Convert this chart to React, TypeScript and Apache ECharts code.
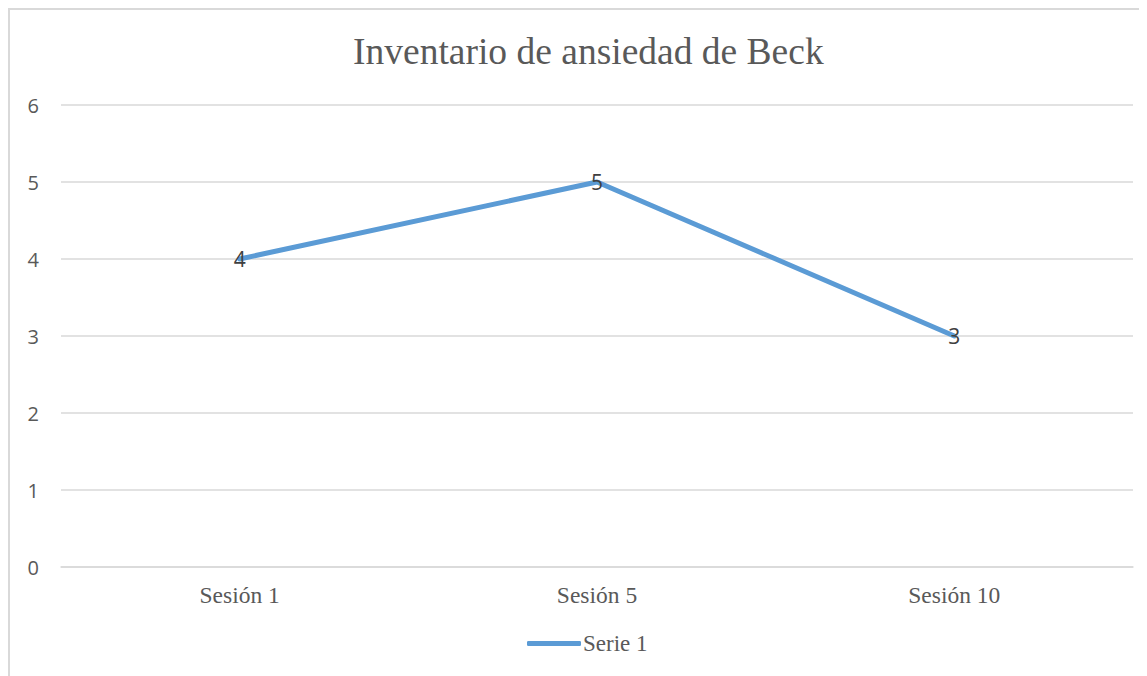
import React, { useEffect, useRef } from "react";
import * as echarts from "echarts";

const categories = ["Sesión 1", "Sesión 5", "Sesión 10"];
const serie1 = [4, 5, 3];
const yTicks = { min: 0, max: 6, interval: 1 };
const titleText = "Inventario de ansiedad de Beck";
const seriesName = "Serie 1";

export default function App() {
  const ref = useRef<HTMLDivElement>(null);
  useEffect(() => {
    if (!ref.current) return;
    const chart = echarts.init(ref.current, undefined, { renderer: "svg" });
    chart.setOption({
      animation: false,
      backgroundColor: "#ffffff",
      title: {
        text: titleText,
        left: 340,
        top: 19,
        textStyle: {
          fontFamily: "Liberation Serif",
          fontSize: 37.5,
          fontWeight: "normal",
          color: "#595959",
        },
      },
      graphic: [
        { type: "line", shape: { x1: 1, y1: 0, x2: 1, y2: 700 }, style: { stroke: "#d9d9d9", lineWidth: 2 } },
        { type: "line", shape: { x1: 0, y1: 1, x2: 1200, y2: 1 }, style: { stroke: "#d9d9d9", lineWidth: 2 } },
      ],
      legend: {
        bottom: 16,
        left: 514,
        icon: "roundRect",
        itemWidth: 54,
        itemHeight: 5,
        itemGap: 10,
        textStyle: { fontFamily: "Liberation Serif", fontSize: 23, color: "#595959", padding: [0, 0, 0, -3] },
        data: [seriesName],
      },
      grid: { left: 53, right: 14, top: 97, bottom: 109, containLabel: false },
      xAxis: {
        type: "category",
        data: categories,
        boundaryGap: true,
        axisLine: { show: true, lineStyle: { color: "#d9d9d9", width: 1.5 } },
        axisTick: { show: false },
        axisLabel: {
          fontFamily: "Liberation Serif",
          fontSize: 23.5,
          color: "#595959",
          margin: 16,
        },
      },
      yAxis: {
        type: "value",
        min: yTicks.min,
        max: yTicks.max,
        interval: yTicks.interval,
        axisLine: { show: false },
        axisTick: { show: false },
        splitLine: { lineStyle: { color: "#d9d9d9", width: 1.5 } },
        axisLabel: {
          fontFamily: "Open Sans",
          fontSize: 20,
          color: "#595959",
          margin: 22,
        },
      },
      series: [
        {
          name: seriesName,
          type: "line",
          data: serie1,
          symbol: "circle",
          symbolSize: 0,
          showSymbol: true,
          lineStyle: { color: "#5b9bd5", width: 5, cap: "round", join: "round" },
          itemStyle: { color: "#5b9bd5" },
          label: {
            show: true,
            position: "inside",
            fontFamily: "Open Sans",
            fontSize: 21,
            color: "#404040",
          },
        },
      ],
    });
    return () => chart.dispose();
  }, []);
  return <div ref={ref} style={{ width: 1139, height: 668 }} />;
}
